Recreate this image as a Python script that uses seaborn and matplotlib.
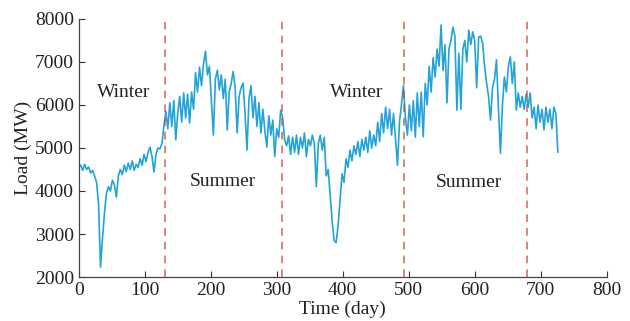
import numpy as np
import pandas as pd
import matplotlib
matplotlib.use("Agg")
import matplotlib.pyplot as plt
import seaborn as sns

# Daily load, sampled every 3 days (MW)
day_step = 3
load_mw = [
    4550, 4600, 4480, 4620, 4500, 4560, 4420, 4480, 4350, 4200,
    3700, 2230, 2900, 3500, 3950, 4100, 4000, 4250, 4150, 3860,
    4350, 4500, 4380, 4600, 4450, 4650, 4500, 4700, 4480, 4620,
    4550, 4750, 4600, 4850, 4680, 4900, 5020, 4800, 4440, 4850,
    5000, 4980, 5100, 5500, 5850, 5450, 6050, 5500, 6100, 5190,
    5800, 6200, 5600, 6280, 5700, 6250, 5580, 6300, 5900, 6750,
    6300, 6880, 6450, 6950, 7250, 6700, 6900, 6100, 5300, 6600,
    6810, 6350, 6700, 6150, 6600, 5420, 6300, 6500, 6780, 6400,
    5350, 6200, 6400, 6510, 5800, 4950, 6150, 6450, 5700, 6200,
    5500, 6050, 5350, 5900, 5400, 5020, 5750, 5300, 5650, 4800,
    5450, 5250, 5880, 5700, 5190, 5050, 5280, 4850, 5250, 4900,
    5300, 4850, 5250, 5000, 5350, 4800, 5200, 5050, 5300, 5100,
    4100, 5100, 5300, 4950, 5250, 4350, 4500, 3900, 3300, 2850,
    2800, 3200, 3800, 4400, 4200, 4750, 4550, 4950, 4700, 5050,
    4850, 5150, 4800, 5200, 4950, 5250, 4900, 5400, 5000, 5300,
    5050, 5600, 5150, 5800, 5350, 5950, 5450, 5900, 5300, 5800,
    5200, 4600, 5600, 6000, 6450, 5700, 5300, 6000, 5400, 6100,
    5250, 6280, 5500, 6300, 5260, 6500, 6000, 6900, 6300, 7100,
    6650, 7300, 6900, 7860, 6800, 7400, 6050, 7300, 7500, 7810,
    7600, 5880, 7200, 5900, 7300, 7500, 7000, 7740, 7400, 7700,
    7500, 6400, 7580, 7600, 7440, 6900, 6510, 6200, 5650, 6400,
    6600, 7050, 5900, 4880, 6000, 6650, 6300, 6900, 7120, 6500,
    7000, 5880, 6280, 5950, 6200, 5900, 6250, 5950, 6280, 5700,
    5950, 5450, 6000, 5600, 5900, 5420, 5950, 5600, 5900, 5450,
    5950, 5800, 4900,
]
season_bounds = [130, 308, 493, 680]
season_labels = ["Winter", "Summer", "Winter", "Summer"]
label_days = [68, 218, 421, 591]
label_loads = [6280, 4210, 6280, 4190]

df = pd.DataFrame({
    "day": np.arange(len(load_mw)) * day_step,
    "load": load_mw,
})

sns.set_style("ticks")
plt.rcParams["font.family"] = ["Liberation Serif", "DejaVu Serif"]
plt.rcParams["xtick.direction"] = "in"
plt.rcParams["ytick.direction"] = "in"

fig = plt.figure(figsize=(6.3, 3.21), dpi=100)
ax = fig.add_axes([0.125, 0.137, 0.838, 0.804])

sns.lineplot(data=df, x="day", y="load", ax=ax, color="#22a4d6", linewidth=1.2)

for b in season_bounds:
    ax.axvline(b, color="#cc4a36", alpha=0.85, linestyle=(0, (5, 4)), linewidth=1.1)

for d, v, s in zip(label_days, label_loads, season_labels):
    ax.text(d, v, s, ha="center", va="center", fontsize=14, color="#222222")

ax.set_xlim(0, 800)
ax.set_ylim(2000, 8000)
ax.set_xticks(range(0, 801, 100))
ax.set_yticks(range(2000, 8001, 1000))
ax.tick_params(labelsize=14, length=4, width=0.8, colors="#333333", labelcolor="#222222")
ax.set_xlabel("Time (day)", fontsize=14, labelpad=1, color="#222222")
ax.set_ylabel("Load (MW)", fontsize=14, labelpad=2, color="#222222")
for side in ["top", "right"]:
    ax.spines[side].set_visible(False)
for side in ["left", "bottom"]:
    ax.spines[side].set_color("#444444")
    ax.spines[side].set_linewidth(0.9)

fig.savefig("out.png", dpi=100)
